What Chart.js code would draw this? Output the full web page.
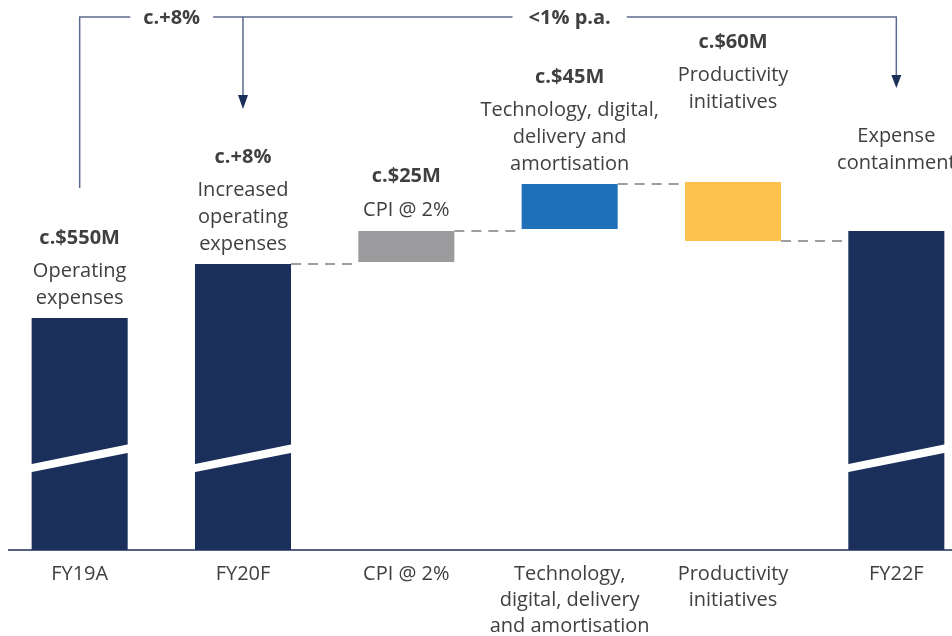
<!DOCTYPE html>
<html><head><meta charset="utf-8">
<script src="https://cdn.jsdelivr.net/npm/chart.js@4"></script>
<style>
html,body{margin:0;padding:0;background:#fff;overflow:hidden;width:952px;height:636px;}
#wrap{position:absolute;left:-2px;top:0;width:980px;height:636px;}
</style></head><body>
<div id="wrap"><canvas id="c"></canvas></div>
<script>
const categories = [["FY19A"],["FY20F"],["CPI @ 2%"],["Technology,","digital, delivery","and amortisation"],["Productivity","initiatives"],["FY22F"]];
const totals = [550, 604, null, null, null, 637];
const steps = [null, null, [606, 637], [639, 684], [686, 627], null];
const valueLabels = ["c.$550M","c.+8%","c.$25M","c.$45M","c.$60M",""];
const descriptions = [["Operating","expenses"],["Increased","operating","expenses"],["CPI @ 2%"],["Technology, digital,","delivery and","amortisation"],["Productivity","initiatives"],["Expense","containment"]];
const growthLabels = ["c.+8%","<1% p.a."];

const values = categories.map((_, i) => totals[i] !== null ? totals[i] : steps[i]);
const navy = '#1b2f5b';
const barColors = [navy, navy, '#9b9b9e', '#1e71b8', '#fdc24c', navy];
const textColor = '#404040';
const FONT = "'Open Sans', 'Noto Sans', sans-serif";

const annot = {
  id: 'annot',
  afterDatasetsDraw(chart) {
    const ctx = chart.ctx;
    const bars = chart.getDatasetMeta(0).data;
    const ys = chart.scales.y;
    const base = chart.chartArea.bottom;
    ctx.save();
    // axis break bands
    ctx.fillStyle = '#ffffff';
    bars.forEach((b, i) => {
      if (totals[i] === null) return;
      const l = b.x - b.width / 2, r = b.x + b.width / 2;
      ctx.beginPath();
      ctx.moveTo(l - 1, base - 85.7);
      ctx.lineTo(r + 1, base - 105.7);
      ctx.lineTo(r + 1, base - 97.3);
      ctx.lineTo(l - 1, base - 77.7);
      ctx.closePath();
      ctx.fill();
    });
    // baseline
    ctx.strokeStyle = navy; ctx.lineWidth = 1.5;
    ctx.beginPath(); ctx.moveTo(10, base); ctx.lineTo(chart.width, base); ctx.stroke();
    // connectors
    ctx.setLineDash([10, 7]); ctx.strokeStyle = '#9e9ea2'; ctx.lineWidth = 2;
    for (let i = 1; i < bars.length - 1; i++) {
      const v = totals[i] !== null ? totals[i] : steps[i][1];
      const y = Math.round(ys.getPixelForValue(v));
      const x1 = bars[i].x + bars[i].width / 2, x2 = bars[i + 1].x - bars[i + 1].width / 2;
      ctx.beginPath(); ctx.moveTo(x1, y); ctx.lineTo(x2, y); ctx.stroke();
    }
    ctx.setLineDash([]);
    // labels above bars
    const gaps = [20, 20, 21, 20, 80, 68];
    ctx.textAlign = 'center'; ctx.textBaseline = 'middle'; ctx.fillStyle = textColor;
    bars.forEach((b, i) => {
      const top = Math.min(b.y, b.base);
      let y = top - gaps[i];
      const desc = descriptions[i];
      ctx.font = '20px ' + FONT;
      for (let k = desc.length - 1; k >= 0; k--) {
        ctx.fillText(desc[k], b.x, y);
        if (k > 0) y -= 26.7;
      }
      if (valueLabels[i]) {
        y -= 33.5;
        ctx.font = 'bold 20px ' + FONT;
        ctx.fillText(valueLabels[i], b.x, y);
      }
    });
    // top bracket
    const yT = 17;
    const c0 = bars[0].x, c1 = bars[1].x, c3 = bars[3].x, c5 = bars[5].x;
    ctx.font = 'bold 20px ' + FONT;
    const t1x = c0 + 92, t2x = c3;
    const w1 = ctx.measureText(growthLabels[0]).width, w2 = ctx.measureText(growthLabels[1]).width;
    ctx.strokeStyle = '#5b6b8c'; ctx.lineWidth = 1.5;
    ctx.beginPath();
    ctx.moveTo(c0, 188); ctx.lineTo(c0, yT); ctx.lineTo(t1x - w1 / 2 - 13, yT);
    ctx.moveTo(t1x + w1 / 2 + 13, yT); ctx.lineTo(t2x - w2 / 2 - 16, yT);
    ctx.moveTo(t2x + w2 / 2 + 16, yT); ctx.lineTo(c5, yT); ctx.lineTo(c5, 76);
    ctx.moveTo(c1, yT); ctx.lineTo(c1, 96);
    ctx.stroke();
    ctx.fillStyle = navy;
    ctx.beginPath();
    ctx.moveTo(c1 - 5, 95); ctx.lineTo(c1 + 5, 95); ctx.lineTo(c1, 109); ctx.closePath();
    ctx.moveTo(c5 - 5, 75); ctx.lineTo(c5 + 5, 75); ctx.lineTo(c5, 88); ctx.closePath();
    ctx.fill();
    ctx.fillStyle = textColor;
    ctx.fillText(growthLabels[0], t1x, yT + 1);
    ctx.fillText(growthLabels[1], t2x, yT + 1);
    ctx.restore();
  }
};

new Chart(document.getElementById('c'), {
  type: 'bar',
  data: {
    labels: categories,
    datasets: [{ data: values, backgroundColor: barColors, borderWidth: 0, categoryPercentage: 1, barPercentage: 0.588 }]
  },
  options: {
    responsive: true, maintainAspectRatio: false, animation: false,
    layout: { padding: 0 },
    plugins: { legend: { display: false }, tooltip: { enabled: false } },
    scales: {
      x: {
        grid: { display: false, drawTicks: false }, border: { display: false },
        ticks: { color: textColor, font: { family: FONT, size: 20, lineHeight: 1.3 }, padding: 11, maxRotation: 0, autoSkip: false },
        afterFit: s => { s.height = 86; }
      },
      y: { display: false, min: 318, max: 868 }
    }
  },
  plugins: [annot]
});
</script>
</body></html>
